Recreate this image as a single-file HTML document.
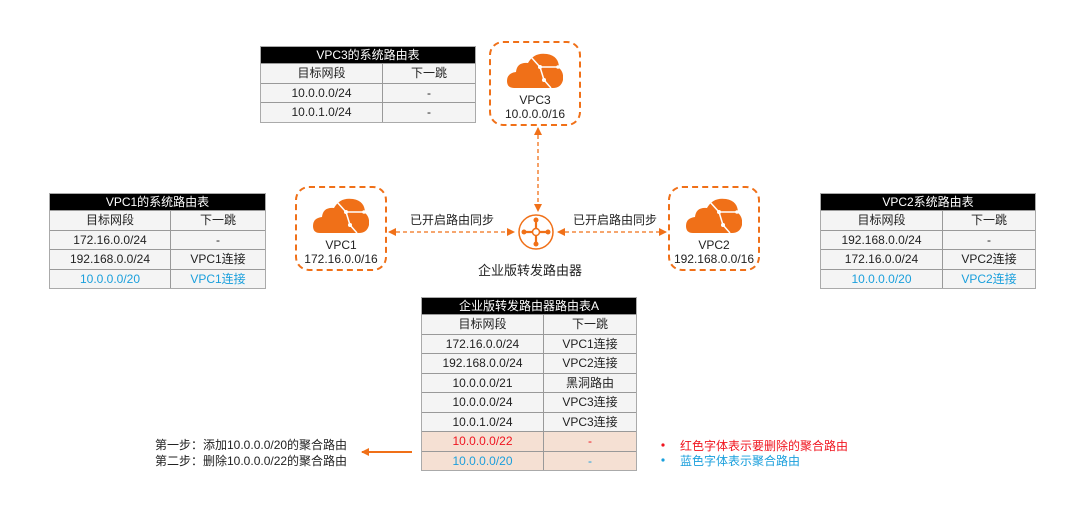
<!DOCTYPE html>
<html><head><meta charset="utf-8"><style>
*{margin:0;padding:0;box-sizing:border-box}
body{width:1092px;height:520px;background:#fff;position:relative;overflow:hidden;font-family:"Liberation Sans","Noto Sans CJK SC",sans-serif;color:#222;font-size:12px}
.t{position:absolute;border:1px solid #aaa;background:#f4f4f4}
.t .h{background:#000;color:#fff;text-align:center;font-size:12px;height:16px;line-height:16px}
.t .r{display:flex;border-top:1px solid #999;height:19.5px;line-height:18.5px}
.t .r div{text-align:center}
.t .r div:first-child{border-right:1px solid #999}
.blue{color:#1a9fdc}.red{color:#f0141e}
.pink{background:#f5e0d3}
.box{position:absolute;border:2px dashed #f07018;border-radius:14px;background:#fff;text-align:center;font-size:12px;line-height:14px}
.abs{position:absolute;white-space:nowrap}
</style></head><body>
<svg width="1092" height="520" style="position:absolute;left:0;top:0">
<defs>
<marker id="a" markerWidth="8" markerHeight="8" refX="7" refY="4" orient="auto" markerUnits="userSpaceOnUse"><path d="M0,0 L8,4 L0,8z" fill="#f07018"/></marker>
<marker id="b" markerWidth="8" markerHeight="8" refX="1" refY="4" orient="auto" markerUnits="userSpaceOnUse"><path d="M8,0 L0,4 L8,8z" fill="#f07018"/></marker>
</defs>
<g stroke="#f07018" stroke-width="1.3" stroke-dasharray="4,3" fill="none">
<line x1="538" y1="128" x2="538" y2="211" marker-start="url(#b)" marker-end="url(#a)"/>
<line x1="389" y1="232" x2="514" y2="232" marker-start="url(#b)" marker-end="url(#a)"/>
<line x1="558" y1="232" x2="666" y2="232" marker-start="url(#b)" marker-end="url(#a)"/>
</g>
<line x1="412" y1="452" x2="362" y2="452" stroke="#f07018" stroke-width="2" marker-end="url(#a)"/>
<circle cx="536" cy="232" r="17" fill="#fff" stroke="#f07018" stroke-width="1.5"/>
<g stroke="#f07018" stroke-width="2.2"><line x1="524" y1="232" x2="548" y2="232"/><line x1="536" y1="220" x2="536" y2="244"/></g>
<g fill="#f07018"><circle cx="524" cy="232" r="2.5"/><circle cx="548" cy="232" r="2.5"/><circle cx="536" cy="220" r="2.5"/><circle cx="536" cy="244" r="2.5"/></g>
<circle cx="536" cy="232" r="3.5" fill="#fff" stroke="#f07018" stroke-width="1.5"/>
<circle cx="663" cy="445" r="1.6" fill="#f0141e"/>
<circle cx="663" cy="460" r="1.6" fill="#1a9fdc"/>
<symbol id="cl" viewBox="0 0 56 36"><path d="M7,36 Q0,36 0,29 Q0,21 9,20 Q10,10 21,11 Q27,0 40,2 Q52,4 52,16 Q57,20 56,28 Q54,36 46,36 Z" fill="#f07018"/><g stroke="#fff" stroke-width="1.5" fill="none"><path d="M24,5 L33,15 L51,15 M33,15 L37,28 L44,36"/></g><g fill="#fff"><circle cx="33" cy="15" r="2"/><circle cx="37" cy="28" r="2"/><circle cx="51" cy="15" r="1.8"/></g></symbol>
</svg>
<div class="box" style="left:489px;top:41px;width:92px;height:85px"><svg width="56" height="36" style="margin-top:9px"><use href="#cl"/></svg><div style="margin-top:2px">VPC3<br>10.0.0.0/16</div></div>
<div class="box" style="left:295px;top:186px;width:92px;height:85px"><svg width="56" height="36" style="margin-top:9px"><use href="#cl"/></svg><div style="margin-top:2px">VPC1<br>172.16.0.0/16</div></div>
<div class="box" style="left:668px;top:186px;width:92px;height:85px"><svg width="56" height="36" style="margin-top:9px"><use href="#cl"/></svg><div style="margin-top:2px">VPC2<br>192.168.0.0/16</div></div>
<div class="abs" style="left:410px;top:211px">已开启路由同步</div>
<div class="abs" style="left:573px;top:211px">已开启路由同步</div>
<div class="abs" style="left:478px;top:260px;font-size:13px">企业版转发路由器</div>

<div class="t" style="left:260px;top:46px;width:216px">
<div class="h">VPC3的系统路由表</div>
<div class="r"><div style="width:122px">目标网段</div><div style="flex:1">下一跳</div></div>
<div class="r"><div style="width:122px">10.0.0.0/24</div><div style="flex:1">-</div></div>
<div class="r"><div style="width:122px">10.0.1.0/24</div><div style="flex:1">-</div></div>
</div>
<div class="t" style="left:49px;top:193px;width:217px">
<div class="h">VPC1的系统路由表</div>
<div class="r"><div style="width:121px">目标网段</div><div style="flex:1">下一跳</div></div>
<div class="r"><div style="width:121px">172.16.0.0/24</div><div style="flex:1">-</div></div>
<div class="r"><div style="width:121px">192.168.0.0/24</div><div style="flex:1">VPC1连接</div></div>
<div class="r blue"><div style="width:121px">10.0.0.0/20</div><div style="flex:1">VPC1连接</div></div>
</div>
<div class="t" style="left:820px;top:193px;width:216px">
<div class="h">VPC2系统路由表</div>
<div class="r"><div style="width:122px">目标网段</div><div style="flex:1">下一跳</div></div>
<div class="r"><div style="width:122px">192.168.0.0/24</div><div style="flex:1">-</div></div>
<div class="r"><div style="width:122px">172.16.0.0/24</div><div style="flex:1">VPC2连接</div></div>
<div class="r blue"><div style="width:122px">10.0.0.0/20</div><div style="flex:1">VPC2连接</div></div>
</div>
<div class="t" style="left:421px;top:297px;width:216px">
<div class="h">企业版转发路由器路由表A</div>
<div class="r"><div style="width:122px">目标网段</div><div style="flex:1">下一跳</div></div>
<div class="r"><div style="width:122px">172.16.0.0/24</div><div style="flex:1">VPC1连接</div></div>
<div class="r"><div style="width:122px">192.168.0.0/24</div><div style="flex:1">VPC2连接</div></div>
<div class="r"><div style="width:122px">10.0.0.0/21</div><div style="flex:1">黑洞路由</div></div>
<div class="r"><div style="width:122px">10.0.0.0/24</div><div style="flex:1">VPC3连接</div></div>
<div class="r"><div style="width:122px">10.0.1.0/24</div><div style="flex:1">VPC3连接</div></div>
<div class="r pink red"><div style="width:122px">10.0.0.0/22</div><div style="flex:1">-</div></div>
<div class="r pink blue"><div style="width:122px">10.0.0.0/20</div><div style="flex:1">-</div></div>
</div>
<div class="abs" style="left:155px;top:437px;line-height:16px">第一步：添加10.0.0.0/20的聚合路由<br>第二步：删除10.0.0.0/22的聚合路由</div>
<div class="abs red" style="left:680px;top:437px">红色字体表示要删除的聚合路由</div>
<div class="abs blue" style="left:680px;top:452px">蓝色字体表示聚合路由</div>
</body></html>
